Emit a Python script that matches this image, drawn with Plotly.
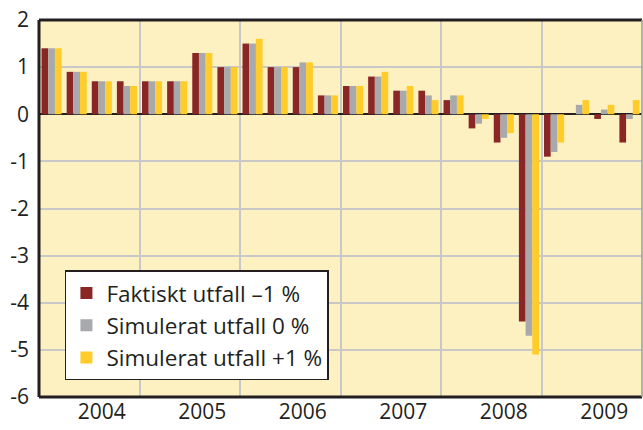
import plotly.graph_objects as go

years = ["2004", "2005", "2006", "2007", "2008", "2009"]
quarters = [f"{y} K{q}" for y in years for q in range(1, 5)]

faktiskt = [1.4, 0.9, 0.7, 0.7,
            0.7, 0.7, 1.3, 1.0,
            1.5, 1.0, 1.0, 0.4,
            0.6, 0.8, 0.5, 0.5,
            0.3, -0.3, -0.6, -4.4,
            -0.9, 0.0, -0.1, -0.6]
sim0 = [1.4, 0.9, 0.7, 0.6,
        0.7, 0.7, 1.3, 1.0,
        1.5, 1.0, 1.1, 0.4,
        0.6, 0.8, 0.5, 0.4,
        0.4, -0.2, -0.5, -4.7,
        -0.8, 0.2, 0.1, -0.1]
sim1 = [1.4, 0.9, 0.7, 0.6,
        0.7, 0.7, 1.3, 1.0,
        1.6, 1.0, 1.1, 0.4,
        0.6, 0.9, 0.6, 0.3,
        0.4, -0.1, -0.4, -5.1,
        -0.6, 0.3, 0.2, 0.3]

y_ticks = [2, 1, 0, -1, -2, -3, -4, -5, -6]
y_ticktext = ["2", "1", "0", "-1", "-2", "-3", "-4", "-5", "-6"]

series_names = ["Faktiskt utfall \u20131 %", "Simulerat utfall 0 %", "Simulerat utfall +1 %"]
colors = ["#8B2626", "#A7A9AC", "#FFCC29"]

x = list(range(len(quarters)))
FONT = "Open Sans"
INK = "#231F20"

fig = go.Figure()
for name, vals, col in zip(series_names, [faktiskt, sim0, sim1], colors):
    fig.add_trace(go.Bar(x=x, y=vals, name=name, marker=dict(color=col, line=dict(width=0)),
                         hovertext=quarters))

fig.update_layout(
    width=643, height=430,
    margin=dict(l=39, r=1, t=20, b=33),
    paper_bgcolor="white",
    plot_bgcolor="#FDF1C1",
    barmode="group",
    bargap=0.2,
    bargroupgap=0,
    font=dict(family=FONT, color=INK),
    showlegend=True,
    legend=dict(
        x=0.043, y=0.19, xanchor="left", yanchor="middle",
        bgcolor="white", bordercolor=INK, borderwidth=1.5,
        font=dict(size=22.5, family=FONT, color=INK),
        itemwidth=30, tracegroupgap=0,
    ),
    xaxis=dict(
        range=[-0.5, len(quarters) - 0.5],
        tickmode="array",
        tickvals=[i * 4 + 2 for i in range(len(years))],
        ticktext=years,
        showgrid=False,
        zeroline=False,
        ticks="",
        tickfont=dict(size=21, family=FONT, color=INK),
        minor=dict(tick0=-0.5, dtick=4, showgrid=True, gridcolor="#C8C8C8", gridwidth=1.5, ticks=""),
        showline=False,
    ),
    yaxis=dict(
        range=[-6, 2],
        tickmode="array",
        tickvals=y_ticks,
        ticktext=y_ticktext,
        showgrid=True,
        gridcolor="#C8C8C8",
        gridwidth=1.5,
        zeroline=True,
        zerolinecolor=INK,
        zerolinewidth=2,
        ticks="",
        ticklabelstandoff=9,
        tickfont=dict(size=21, family=FONT, color=INK),
        showline=False,
    ),
    shapes=[
        dict(type="line", xref="paper", yref="paper", x0=0, x1=0, y0=0, y1=1,
             line=dict(color=INK, width=3)),
        dict(type="line", xref="paper", yref="paper", x0=0, x1=1, y0=0, y1=0,
             line=dict(color=INK, width=3)),
        dict(type="line", xref="paper", yref="paper", x0=0, x1=1, y0=1, y1=1,
             line=dict(color=INK, width=3)),
        dict(type="line", xref="paper", yref="paper", x0=1, x1=1, y0=0, y1=1,
             line=dict(color="#9A9A9A", width=1.5)),
    ],
)

fig.write_html("out.html",
               config={"displayModeBar": False},
               post_script="document.body.style.margin='0';document.body.style.overflow='hidden';")
